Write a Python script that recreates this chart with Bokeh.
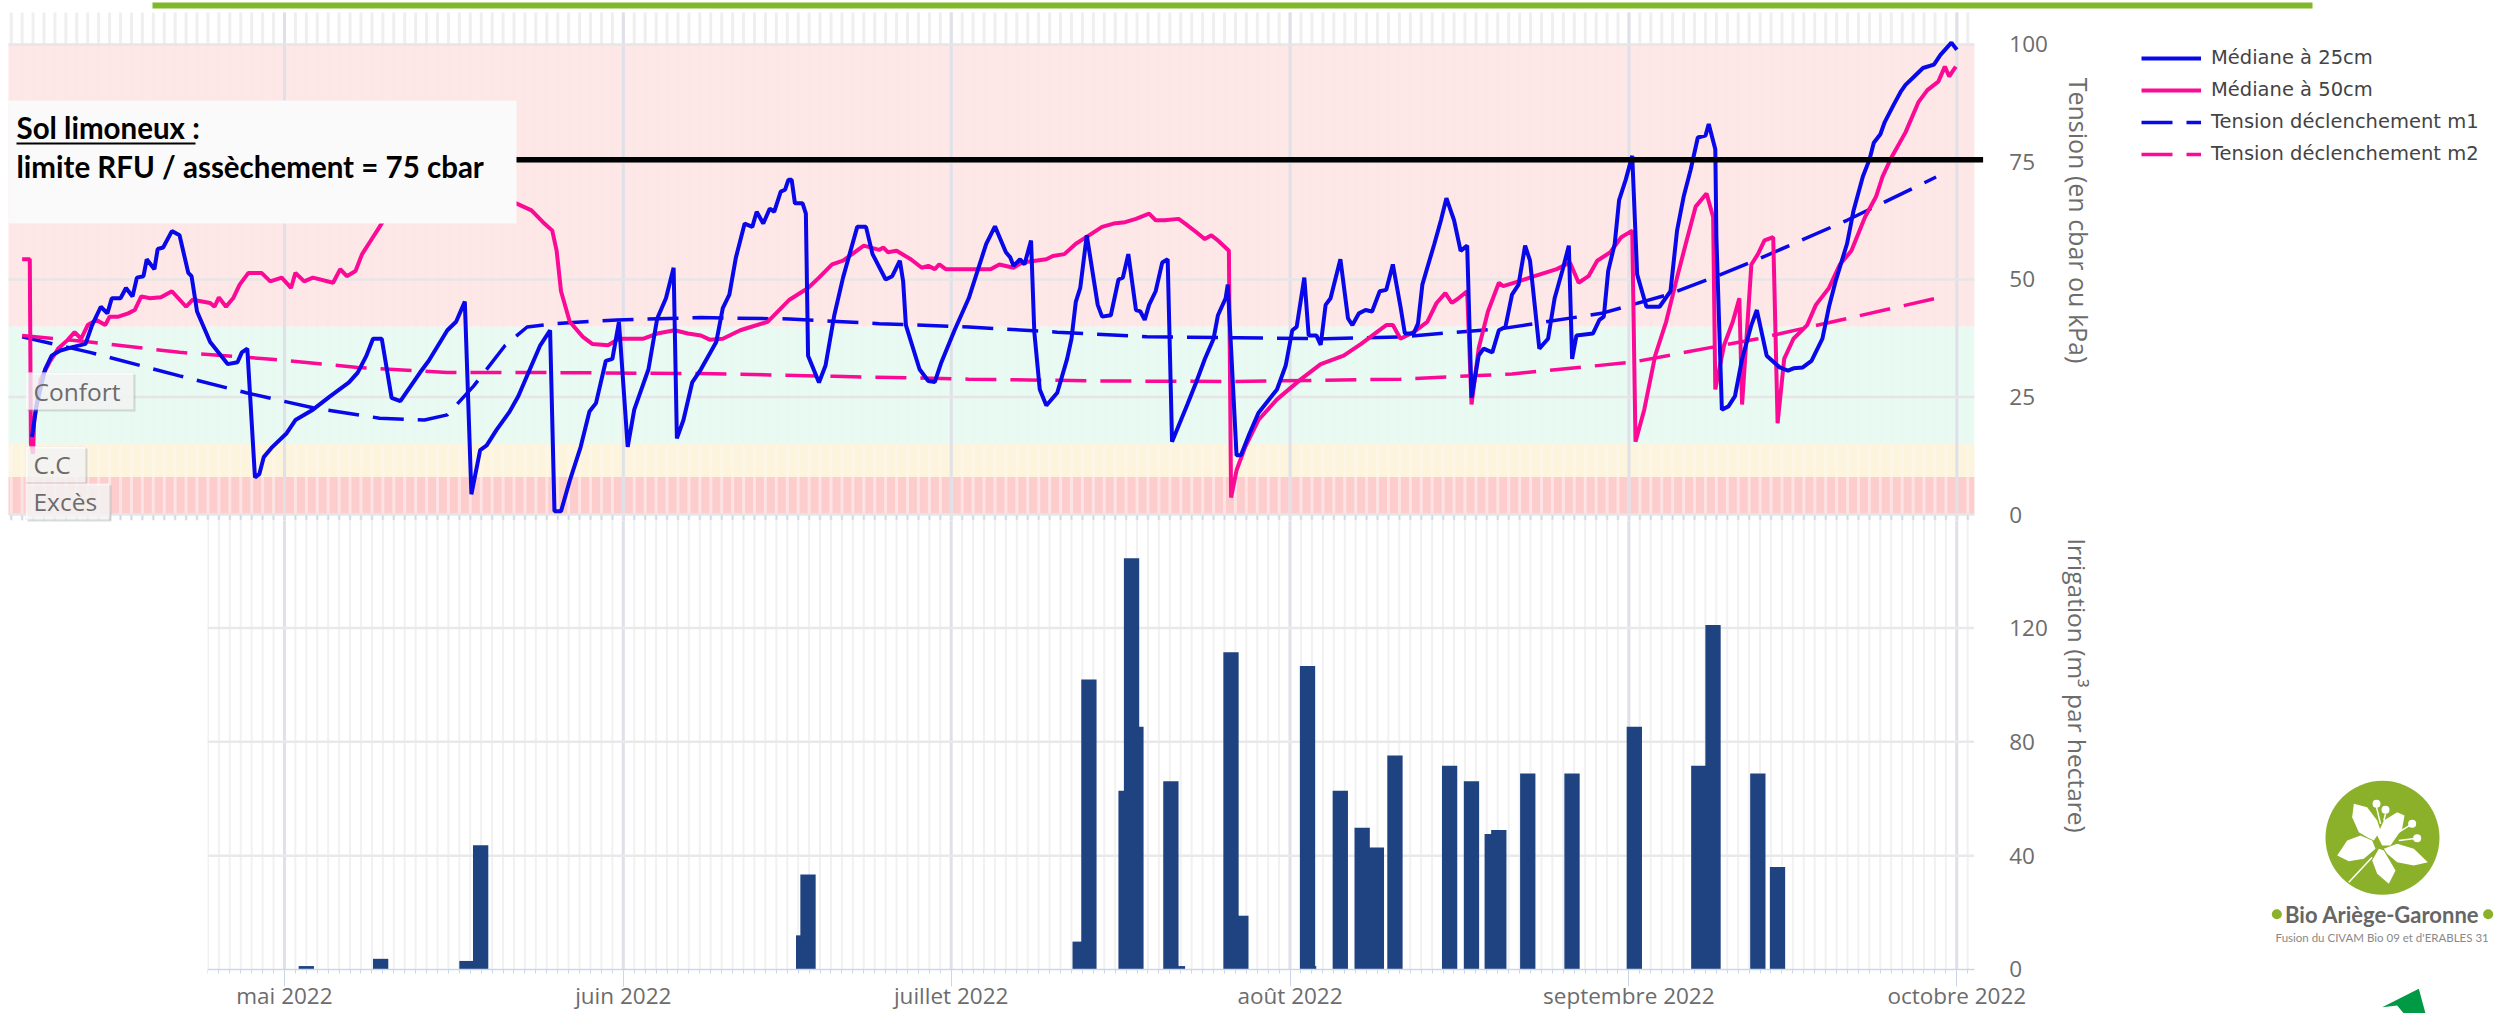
import math
from bokeh.embed import file_html
from bokeh.resources import INLINE
from bokeh.layouts import column, row
from bokeh.plotting import figure
from bokeh.models import (Range1d, LinearAxis, FixedTicker, BoxAnnotation, Label, Legend, LegendItem)
from bokeh.core.properties import value

# ---------- data (days since 1 May 2022) ----------
month_days = [0, 31, 61, 92, 123, 153]
month_labels = ["mai 2022", "juin 2022", "juillet 2022", "août 2022", "septembre 2022", "octobre 2022"]
tension_ticks = [0, 25, 50, 75, 100]
irrigation_ticks = [0, 40, 80, 120]

m25_days = [-23.1,-22.7,-21.9,-21.3,-20.5,-19.4,-18.2,-17.6,-16.8,-16.2,-15.8,-15.0,-14.5,-13.9,-13.5,-12.9,-12.6,-11.9,-11.6,-11.1,-10.3,-9.6,-8.8,-8.5,-8.0,-6.8,-5.2,-4.3,-3.9,-3.4,-2.7,-2.3,-1.9,-1.1,0.2,1.0,2.6,4.2,5.9,6.7,7.5,8.1,8.9,9.8,10.6,12.4,13.2,14.9,15.7,16.5,17.1,17.9,18.5,19.4,20.6,21.4,22.6,23.4,24.3,24.7,25.3,26.1,27.1,27.9,28.5,29.4,30.0,30.6,31.4,32.0,33.3,34.1,34.9,35.6,35.9,36.5,37.3,38.1,
 39.5,40.1,40.7,41.3,42.1,42.8,43.2,43.8,44.4,44.8,45.4,45.8,46.1,46.4,46.7,47.4,47.7,47.9,48.9,49.5,50.3,51.1,52.4,53.2,53.8,55.0,55.6,56.3,56.6,56.85,58.1,58.9,59.5,60.1,61.3,62.6,64.2,65.0,66.0,66.4,66.7,67.3,67.7,68.3,68.6,69.1,69.7,70.7,71.6,72.0,72.4,72.8,73.4,74.4,74.8,75.6,76.3,76.7,77.2,77.9,78.3,78.7,79.1,79.7,80.3,80.8,81.2,82.6,83.4,84.2,85.0,85.4,86.1,86.3,87.1,87.5,88.3,89.1,90.8,91.6,92.2,92.6,93.3,93.7,94.4,94.8,95.25,95.7,96.6,97.3,97.7,98.3,98.9,99.5,100.2,100.8,101.4,
 102.1,102.5,103.3,103.7,104.1,104.55,105.2,105.8,106.3,107.0,107.6,108.2,108.6,109.25,109.7,110.5,111.1,111.7,112.3,112.9,113.5,113.95,114.8,115.6,116.2,116.9,117.5,117.8,118.2,119.7,120.3,120.7,121.1,121.7,122.1,122.7,123.3,123.75,124.6,125.8,126.8,127.4,128.0,128.65,129.3,130.0,130.3,130.9,131.0,131.5,132.1,132.7,133.35,134.2,134.7,135.6,136.8,137.55,138.05,138.9,139.7,140.7,141.3,141.9,142.95,143.55,144.4,145.0,145.4,146.0,146.4,147.2,147.85,148.3,149.1,149.9,150.9,151.5,152.5,153.0]
m25_vals = [16.5,23.0,30.9,33.8,34.9,35.6,36.3,40.3,44.2,42.8,46.0,46.0,48.2,46.4,50.4,50.7,54.3,52.2,56.5,56.8,60.3,59.4,51.4,50.7,43.2,36.7,32.0,32.4,34.5,35.3,7.9,8.6,12.2,14.4,17.3,20.1,22.3,25.2,28.1,30.2,33.8,37.4,37.4,24.8,24.1,30.2,32.7,39.2,41.0,45.3,4.3,13.7,14.7,18.0,21.9,25.2,31.7,36.0,39.2,0.7,0.7,7.2,14.4,21.9,23.7,32.7,33.1,41.0,14.4,22.3,30.9,41.7,46.0,52.5,16.2,20.1,28.1,30.9,
 36.7,43.9,46.8,54.7,61.9,61.2,64.4,61.9,65.1,64.4,68.7,69.1,71.2,71.2,66.2,66.2,64.0,33.8,28.1,31.7,42.4,50.4,61.2,61.2,55.4,50.0,50.7,54.0,49.6,40.3,30.9,28.4,28.2,32.4,39.2,46.0,57.6,61.3,55.8,54.7,52.9,54.3,53.2,58.3,38.8,26.6,23.2,25.9,33.1,37.4,45.3,48.2,59.4,44.6,42.1,42.4,50.0,50.4,55.4,43.5,43.2,41.4,44.6,47.5,53.6,54.3,15.5,23.4,28.1,33.1,37.4,42.4,46.0,48.9,12.6,12.6,17.3,21.6,26.6,31.7,39.2,39.9,50.4,38.1,38.1,36.1,44.6,46.0,54.3,41.7,40.3,42.8,43.5,43.2,47.5,47.8,53.2,
 44.2,38.5,38.5,40.6,48.9,52.5,57.6,62.6,67.3,62.6,56.1,57.2,24.8,33.8,35.3,34.5,39.2,39.9,46.8,48.9,57.2,54.0,35.3,37.4,46.0,51.8,57.2,33.1,38.1,38.5,41.4,42.1,51.8,57.6,66.9,71.2,76.3,51.1,44.2,44.2,47.5,60.4,67.6,73.4,80.2,80.6,83.1,77.7,59.0,22.3,23.0,25.2,33.1,40.3,43.5,33.8,31.3,30.6,31.1,31.3,32.7,37.4,44.2,49.6,57.6,64.7,71.9,75.5,79.1,80.9,83.5,87.1,89.9,91.4,93.2,95.0,95.7,97.8,100.4,98.9]

m50_days = [-24.0,-23.3,-23.2,-23.0,-22.9,-22.3,-21.5,-20.7,-19.85,-19.2,-18.6,-18.0,-17.2,-16.4,-16.0,-15.2,-14.3,-13.7,-13.1,-12.3,-11.3,-10.3,-9.0,-8.4,-6.8,-6.4,-6.0,-5.35,-4.7,-4.1,-3.3,-2.1,-1.3,-0.25,0.6,1.0,1.8,2.6,4.45,5.1,5.7,6.5,7.1,7.9,8.7,9.6,14.9,21.2,22.6,23.65,24.5,24.9,25.3,26.1,27.3,28.15,29.6,30.6,32.85,34.1,35.7,36.9,38.1,
 38.9,40.1,41.7,44.2,46.2,47.9,48.9,50.1,51.1,53.0,54.4,54.8,55.2,56.0,57.3,58.3,58.9,59.5,59.9,60.5,64.6,65.4,66.7,67.5,69.7,70.3,71.35,72.4,73.6,74.8,75.85,76.9,77.9,79.1,79.7,80.5,81.8,82.4,83.4,84.2,84.8,85.4,86.4,86.6,87.1,87.9,89.1,90.8,93.0,94.8,96.9,98.5,99.75,100.8,101.4,102.1,
 103.3,104.55,105.4,106.2,106.8,107.4,108.2,108.6,109.25,110.1,111.1,111.5,112.9,114.35,116.4,117.6,118.4,119.3,120.1,121.3,122.3,123.3,123.6,124.4,125.4,126.4,127.4,128.2,129.1,130.1,130.7,130.9,131.7,132.5,133.1,133.35,134.2,134.8,135.4,136.2,136.6,137.2,138.05,139.3,140.1,141.3,142.3,143.35,144.6,145.6,146.2,147.0,148.3,149.5,150.3,151.3,151.9,152.3,152.9]
m50_vals = [54.3,54.3,15.1,12.9,20.1,28.8,32.4,35.3,37.1,38.8,37.4,40.3,41.4,40.3,42.1,42.1,42.8,43.5,46.4,46.0,46.2,47.5,44.2,45.7,45.0,44.2,46.2,44.2,46.0,48.9,51.4,51.4,49.6,50.4,48.2,51.4,49.6,50.4,49.3,52.2,50.7,51.8,55.4,58.3,61.2,64.7,69.1,66.2,64.7,62.2,60.4,56.1,47.5,41.0,37.8,36.3,36.0,37.4,37.4,38.5,39.2,38.5,38.1,
 37.2,37.4,39.2,41.0,45.7,48.2,50.4,53.2,54.0,57.2,56.3,56.8,55.8,56.1,54.3,52.5,52.9,52.2,53.2,52.2,52.2,53.2,52.5,53.6,54.3,55.0,55.4,57.6,59.4,61.2,61.9,62.2,62.9,64.0,62.6,62.6,62.9,61.9,60.1,58.6,59.4,58.3,56.1,3.6,9.4,14.4,20.1,24.5,28.8,32.0,33.8,36.3,38.5,40.3,40.3,37.4,
 38.8,41.0,45.0,47.1,45.0,46.0,47.5,23.4,35.3,43.2,49.3,48.6,49.6,50.7,52.2,53.6,49.3,50.7,54.0,55.8,59.0,60.4,15.5,22.3,33.8,41.0,50.4,57.6,65.5,68.3,63.3,26.6,36.0,41.0,46.0,23.4,53.2,55.4,58.3,59.0,19.4,33.1,37.4,40.3,44.6,48.2,53.2,56.1,63.3,67.6,71.9,75.9,81.3,87.8,90.3,92.1,95.3,93.2,95.3]

m1_days = [-24.0,-17.8,-9.6,-3.5,2.6,8.7,12.8,14.9,17.3,20.2,22.2,24.7,30.4,38.1,46.2,54.4,62.6,70.7,78.9,87.1,95.25,102.1,111.5,120.5,126.6,130.7,134.8,142.95,151.1]
m1_vals = [37.8,34.5,29.5,25.9,22.7,20.5,20.1,21.2,27.3,36.0,39.9,40.6,41.4,41.9,41.6,40.6,39.9,38.8,37.8,37.6,37.4,37.8,39.6,42.8,46.8,50.4,54.3,62.6,71.8]
m2_days = [-24.0,-17.8,-9.6,-1.5,6.7,14.9,23.0,38.1,50.3,62.6,74.8,87.1,102.1,112.3,123.3,134.8,142.95,151.1]
m2_vals = [38.1,36.7,34.5,33.1,31.3,30.2,30.2,30.0,29.4,28.8,28.4,28.3,28.8,29.9,32.4,37.4,41.7,46.0]

limit_value = 75.5
limit_days = [-25.0, 155.4]

bar_days = [2.0,8.8,16.7,17.95,47.5,47.9,72.8,73.6,77.0,77.5,77.9,81.1,81.7,86.6,87.5,93.6,93.7,96.6,98.6,99.9,101.6,106.6,108.6,110.5,111.1,113.75,117.8,123.5,129.4,130.7,134.8,136.6]
bar_vals = [1.2,3.75,3.0,43.7,12.0,33.4,9.8,101.9,62.8,144.5,85.3,66.2,1.2,111.5,18.9,106.7,1.2,62.8,49.8,42.9,75.2,71.6,66.2,47.6,49.0,68.9,68.9,85.3,71.6,121.1,68.9,36.0]

# zone limits in cbar: name, low, high
zones = [("excess", 0, 8), ("cc", 8, 15), ("confort", 15, 40), ("sec", 40, 100)]
zone_colors = {"excess": "#fdc8c8", "cc": "#fdf3da", "confort": "#e6faf1", "sec": "#fde4e4"}

BLUE = "#0808e8"
PINK = "#fb0a96"
GREY = "#6c6c6c"
FONT = "Open Sans"
DAY_START = -25.25
DAY_END = 154.6
TOP_Y = 106.8
LOW_Y = -1.28

all_days = list(range(-25, 155))


def base_fig(w, h, xr, yr, **kw):
    f = figure(width=w, height=h, x_range=xr, y_range=yr, output_backend="svg", toolbar_location=None,
               outline_line_color=None, background_fill_color=None, border_fill_color=None, min_border=0, **kw)
    f.xgrid.visible = False
    f.ygrid.visible = False
    return f


# ---------- tension panel ----------
top = base_fig(2504, 530, Range1d(-25.98, 203.1), Range1d(-3.404, 109.36), margin=(0, 0, 0, 0),
               x_axis_type=None, y_axis_type=None)

top.segment(all_days, LOW_Y, all_days, TOP_Y, line_color="#efefef", line_width=3)
for name, low, high in zones:
    top.quad(left=DAY_START, right=DAY_END, bottom=low, top=high, fill_color=zone_colors[name], line_color=None, fill_alpha=0.9)
top.segment(all_days, 0, all_days, 8, line_color="#ffffff", line_width=3, line_alpha=0.45)
top.segment(all_days, 8, all_days, 15, line_color="#ffffff", line_width=3, line_alpha=0.3)
top.segment(all_days, 0, all_days, -1.1, line_color="#ccd6eb", line_width=1.5)
top.segment(month_days, LOW_Y, month_days, TOP_Y, line_color="#dfe0e8", line_width=3)
top.segment([DAY_START] * 5, tension_ticks, [DAY_END] * 5, tension_ticks, line_color="#e6e6e6", line_width=2.5)

r_m1 = top.line(m1_days, m1_vals, line_color=BLUE, line_width=3.5, line_dash="31 14")
r_m2 = top.line(m2_days, m2_vals, line_color=PINK, line_width=3.5, line_dash="31 14")
r_50 = top.line(m50_days, m50_vals, line_color=PINK, line_width=4)
r_25 = top.line(m25_days, m25_vals, line_color=BLUE, line_width=4)
top.line(limit_days, [limit_value] * 2, line_color="#000000", line_width=5.5)

ax_t = LinearAxis(ticker=FixedTicker(ticks=tension_ticks), fixed_location=DAY_END, axis_line_color=None, major_tick_line_color=None,
                  minor_tick_line_color=None, major_label_standoff=29, major_label_text_color=GREY,
                  major_label_text_font=FONT, major_label_text_font_size="22.5px")
top.add_layout(ax_t, "right")

legend = Legend(items=[LegendItem(label="Médiane à 25cm", renderers=[r_25]),
                       LegendItem(label="Médiane à 50cm", renderers=[r_50]),
                       LegendItem(label="Tension déclenchement m1", renderers=[r_m1]),
                       LegendItem(label="Tension déclenchement m2", renderers=[r_m2])],
                location=(2141, 365), background_fill_alpha=0, border_line_color=None, glyph_width=60, glyph_height=20,
                label_standoff=10, spacing=9, padding=0, margin=0, label_text_font="DejaVu Sans",
                label_text_font_size="19.5px", label_text_color="#444444")
top.add_layout(legend)

top.add_layout(BoxAnnotation(left=152, right=2312, top=2, bottom=8, left_units="canvas", right_units="canvas",
                             top_units="canvas", bottom_units="canvas", fill_color="#80b82a", fill_alpha=1, line_color=None))
top.add_layout(BoxAnnotation(left=8, right=516, top=100, bottom=223, left_units="canvas", right_units="canvas",
                             top_units="canvas", bottom_units="canvas", fill_color="#fafafa", fill_alpha=1, line_color=None))
top.add_layout(BoxAnnotation(left=16, right=195, top=142, bottom=144, left_units="canvas", right_units="canvas",
                             top_units="canvas", bottom_units="canvas", fill_color="#000000", fill_alpha=1, line_color=None))


def canvas_label(fig, x, y, text, size, color, style="normal", font=FONT, align="left", angle=0.0):
    fig.add_layout(Label(x=x, y=y, x_units="canvas", y_units="canvas", text=text, text_font=font, text_font_size=size,
                         text_color=color, text_font_style=style, text_align=align, text_baseline="middle", angle=angle))


canvas_label(top, 16, 127, "Sol limoneux :", "29.5px", "#000000", "bold", "Lato")
canvas_label(top, 16, 166, "limite RFU / assèchement = 75 cbar", "29.5px", "#000000", "bold", "Lato")

for left, right, ytop, ybot, text in [(25, 133, 372, 409, "Confort"), (25, 85, 446, 482, "C.C"), (25, 109, 483, 519, "Excès")]:
    top.add_layout(BoxAnnotation(left=left + 2, right=right + 2, top=ytop + 2, bottom=ybot + 2, left_units="canvas",
                                 right_units="canvas", top_units="canvas", bottom_units="canvas", fill_color="#999999",
                                 fill_alpha=0.35, line_color=None))
    top.add_layout(BoxAnnotation(left=left, right=right, top=ytop, bottom=ybot, left_units="canvas", right_units="canvas",
                                 top_units="canvas", bottom_units="canvas", fill_color="#ffffff", fill_alpha=0.72,
                                 line_color="#dddddd", line_width=1))
    canvas_label(top, left + 8, (ytop + ybot) / 2, text, "24.5px", GREY)

canvas_label(top, 2078, 220, "Tension (en cbar ou kPa)", "25px", GREY, align="center", angle=-math.pi / 2)

# ---------- irrigation panel ----------
bottom = base_fig(2100, 493, Range1d(-7.04, 166.15), Range1d(-15.47, 157.8), margin=(-10, 0, 0, 0),
                  min_border_left=207, x_axis_type=None, y_axis_type=None)
bottom.segment(all_days[18:], 0, all_days[18:], 157.8, line_color="#f1f1f1", line_width=2)
bottom.segment(month_days, 0, month_days, 157.8, line_color="#dfe0e8", line_width=3)
bottom.segment([-7.04] * 3, irrigation_ticks[1:], [DAY_END] * 3, irrigation_ticks[1:], line_color="#e9e9e9", line_width=2.5)
bottom.vbar(x=bar_days, top=bar_vals, width=1.4, fill_color="#1f4280", line_color=None)

ax_x = LinearAxis(ticker=FixedTicker(ticks=month_days, minor_ticks=all_days[18:]), major_label_overrides=dict(zip(month_days, month_labels)),
                  fixed_location=0, bounds=(-7.04, DAY_END), axis_line_color="#ccd6eb", axis_line_width=1.5, major_tick_line_color="#ccd6eb",
                  minor_tick_line_color="#ccd6eb", major_tick_in=0, major_tick_out=17, minor_tick_in=0, minor_tick_out=4, major_label_standoff=-6,
                  major_label_text_color=GREY, major_label_text_font=FONT, major_label_text_font_size="22.5px")
bottom.add_layout(ax_x, "below")
ax_i = LinearAxis(ticker=FixedTicker(ticks=irrigation_ticks), fixed_location=DAY_END, axis_line_color=None, major_tick_line_color=None,
                  minor_tick_line_color=None, major_label_standoff=29, major_label_text_color=GREY,
                  major_label_text_font=FONT, major_label_text_font_size="22.5px")
bottom.add_layout(ax_i, "right")
canvas_label(bottom, 2077, 165, "Irrigation (m³ par hectare)", "24.5px", GREY, align="center", angle=-math.pi / 2)

# ---------- logo (decoration) ----------
logo = base_fig(404, 493, Range1d(2100, 2504), Range1d(1013, 520), margin=(-10, 0, 0, 0),
                x_axis_type=None, y_axis_type=None)


def zx(v):
    return 2000 + v / 3


def zy(v):
    return 520 + v / 3


petals = [
    [(1060, 850), (1100, 860), (1130, 900), (1140, 930), (1120, 960), (1100, 950), (1075, 935), (1055, 890)],
    [(1150, 900), (1190, 875), (1212, 885), (1205, 925), (1170, 975), (1145, 975), (1130, 945)],
    [(1010, 1005), (1040, 960), (1080, 945), (1115, 960), (1125, 985), (1090, 1015), (1045, 1022)],
    [(1150, 985), (1190, 970), (1240, 985), (1282, 1025), (1240, 1035), (1190, 1025), (1160, 1000)],
    [(1135, 985), (1150, 990), (1185, 1050), (1165, 1090), (1130, 1060), (1115, 1020)],
]
logo.circle(x=[zx(1146)], y=[zy(952)], radius=57, fill_color="#8bb02a", line_color=None)
logo.patches([[zx(p[0]) for p in pet] for pet in petals], [[zy(p[1]) for p in pet] for pet in petals], fill_color="#ffffff", line_color=None)
logo.multi_line([[zx(1115), zx(1045)], [zx(1140), zx(1128)], [zx(1150), zx(1155)], [zx(1195), zx(1235)], [zx(1195), zx(1250)]],
                [[zy(1010), zy(1085)], [zy(910), zy(860)], [zy(900), zy(880)], [zy(935), zy(910)], [zy(960), zy(953)]],
                line_color="#ffffff", line_width=1.5)
logo.scatter([zx(1128), zx(1155), zx(1235), zx(1250)], [zy(850), zy(868), zy(910), zy(953)], size=8, fill_color="#ffffff", line_color=None)
logo.scatter([zx(829), zx(1463)], [zy(1181), zy(1181)], size=10, fill_color="#8bb02a", line_color=None)
logo.text(x=[zx(1145)], y=[zy(1181)], text=["Bio Ariège-Garonne"], text_font=value("Lato"), text_font_style="bold", text_font_size="22px",
          text_color="#666666", text_align="center", text_baseline="middle")
logo.text(x=[zx(1145)], y=[zy(1251)], text=["Fusion du CIVAM Bio 09 et d'ERABLES 31"], text_font=value("Lato"), text_font_size="11.5px",
          text_color="#888888", text_align="center", text_baseline="middle")
logo.patch([zx(v) for v in (1145, 1255, 1275, 1210, 1190)], [zy(v) for v in (1460, 1405, 1479, 1479, 1455)], fill_color="#009a44", line_color=None)

page = column(top, row(bottom, logo))
open("out.html", "w").write(file_html(page, INLINE))
